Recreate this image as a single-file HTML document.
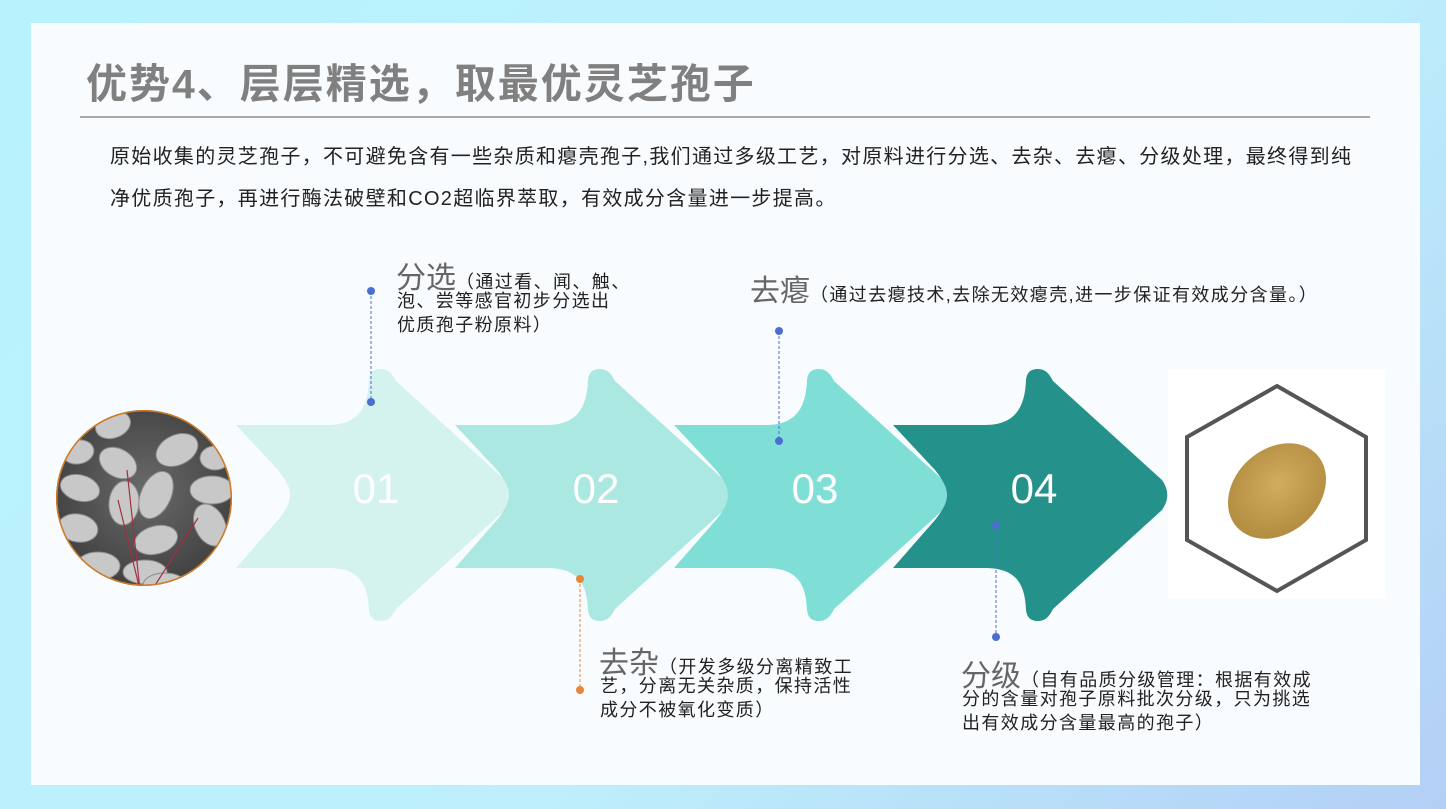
<!DOCTYPE html>
<html><head><meta charset="utf-8"><style>
body{margin:0;width:1446px;height:809px;overflow:hidden;background:linear-gradient(135deg,#b8f3fd 0%,#bdeffc 60%,#b3cff5 100%);font-family:"Liberation Sans","Noto Sans CJK SC",sans-serif;position:relative}
.card{position:absolute;left:31px;top:23px;width:1389px;height:762px;background:#f8fcfe}
.a{position:absolute;white-space:nowrap}
.big{font-size:30px;color:#666}
.sm{font-size:18px;color:#222;line-height:24px;letter-spacing:1.4px}
</style></head><body>
<div class="card"></div>
<div class="a" style="left:86px;top:50px;font-size:41px;font-weight:bold;color:#808080;letter-spacing:2px">优势4、层层精选，取最优灵芝孢子</div>
<div class="a" style="left:80px;top:116px;width:1290px;height:2px;background:#a8a8a8"></div>
<div class="a" style="left:110px;top:136px;font-size:20px;letter-spacing:1.3px;color:#222;line-height:42px">原始收集的灵芝孢子，不可避免含有一些杂质和瘪壳孢子,我们通过多级工艺，对原料进行分选、去杂、去瘪、分级处理，最终得到纯<br>净优质孢子，再进行酶法破壁和CO2超临界萃取，有效成分含量进一步提高。</div>

<svg class="a" style="left:0;top:0" width="1446" height="809">
<defs>
<radialGradient id="g1" cx="50%" cy="45%" r="60%"><stop offset="0" stop-color="#6a6a6a"/><stop offset="1" stop-color="#3a3a3a"/></radialGradient>
<radialGradient id="eg" cx="55%" cy="45%" r="60%"><stop offset="0" stop-color="#d2ad5e"/><stop offset="1" stop-color="#b08a3e"/></radialGradient>
<clipPath id="cc"><circle cx="144" cy="498" r="88"/></clipPath>
<path id="arr" d="M236,425 L328,425 C360,425 368,405 369,380 C370,372 374,369 381,369 C388,369 392,373 396,381 L505,480 C512,490 512,500 505,510 L396,609 C392,617 388,621 381,621 C374,621 370,618 369,610 C368,585 360,568 328,568 L236,568 L278,520 C294,500 294,490 278,470 Z"/>
</defs>
<use href="#arr" fill="#d4f3ef"/>
<use href="#arr" fill="#abe8e1" transform="translate(219,0)"/>
<use href="#arr" fill="#7fdfd7" transform="translate(438,0)"/>
<use href="#arr" fill="#24918a" transform="translate(657,0)"/>
<g font-size="42" fill="#fff" text-anchor="middle" font-family="Liberation Sans,sans-serif">
<text x="376" y="503">01</text><text x="596" y="503">02</text><text x="815" y="503">03</text><text x="1034" y="503">04</text></g>

<g clip-path="url(#cc)">
<rect x="50" y="405" width="190" height="190" fill="url(#g1)"/>
<g fill="#c8c8c8" stroke="#8a8a8a" stroke-width="1">
<ellipse cx="113" cy="425" rx="18" ry="13" transform="rotate(-20 113 425)"/>
<ellipse cx="177" cy="450" rx="22" ry="15" transform="rotate(-25 177 450)"/>
<ellipse cx="118" cy="463" rx="20" ry="14" transform="rotate(30 118 463)"/>
<ellipse cx="78" cy="452" rx="16" ry="12" transform="rotate(-10 78 452)"/>
<ellipse cx="80" cy="488" rx="20" ry="13" transform="rotate(15 80 488)"/>
<ellipse cx="124" cy="503" rx="15" ry="22" transform="rotate(5 124 503)"/>
<ellipse cx="156" cy="495" rx="15" ry="25" transform="rotate(25 156 495)"/>
<ellipse cx="212" cy="490" rx="22" ry="14"/>
<ellipse cx="78" cy="528" rx="20" ry="14" transform="rotate(10 78 528)"/>
<ellipse cx="156" cy="540" rx="22" ry="14" transform="rotate(-15 156 540)"/>
<ellipse cx="210" cy="525" rx="15" ry="22" transform="rotate(-25 210 525)"/>
<ellipse cx="98" cy="566" rx="22" ry="14"/>
<ellipse cx="145" cy="572" rx="22" ry="12"/>
<ellipse cx="165" cy="585" rx="22" ry="12"/>
<ellipse cx="215" cy="458" rx="15" ry="12"/>
</g>
<g stroke="#a03040" stroke-width="1.2" fill="none"><path d="M127,470 L140,590 M118,500 L140,590 M198,518 L152,590"/></g>
<circle cx="144" cy="498" r="88" fill="none" stroke="#d07a22" stroke-width="3"/>
</g>

<rect x="1168" y="369" width="217" height="230" fill="#fff"/>
<polygon points="1277,386 1366,437 1366,540 1277,591 1187,540 1187,437" fill="none" stroke="#555" stroke-width="4"/>
<ellipse cx="1277" cy="491" rx="54" ry="42" transform="rotate(-42 1277 491)" fill="url(#eg)"/>

<g stroke-width="1" stroke-dasharray="3,2">
<line x1="371" y1="291" x2="371" y2="402" stroke="#4a6fcf"/>
<line x1="779" y1="331" x2="779" y2="441" stroke="#4a6fcf"/>
<line x1="580" y1="579" x2="580" y2="690" stroke="#e8853a"/>
<line x1="996" y1="525" x2="996" y2="637" stroke="#4a6fcf"/>
</g>
<g fill="#4a6fcf"><circle cx="371" cy="291" r="4"/><circle cx="371" cy="402" r="4"/><circle cx="779" cy="331" r="4"/><circle cx="779" cy="441" r="4"/><circle cx="996" cy="525" r="4"/><circle cx="996" cy="637" r="4"/></g>
<g fill="#e8853a"><circle cx="580" cy="579" r="4"/><circle cx="580" cy="690" r="4"/></g>
</svg>

<div class="a" style="left:396px;top:253px"><span class="big">分选</span><span class="sm">（通过看、闻、触、</span></div>
<div class="a sm" style="left:397px;top:289px">泡、尝等感官初步分选出<br>优质孢子粉原料）</div>

<div class="a" style="left:750px;top:266px"><span class="big">去瘪</span><span class="sm">（通过去瘪技术,去除无效瘪壳,进一步保证有效成分含量。）</span></div>

<div class="a" style="left:599px;top:638px"><span class="big">去杂</span><span class="sm">（开发多级分离精致工</span></div>
<div class="a sm" style="left:600px;top:674px">艺，分离无关杂质，保持活性<br>成分不被氧化变质）</div>

<div class="a" style="left:961px;top:651px"><span class="big">分级</span><span class="sm">（自有品质分级管理：根据有效成</span></div>
<div class="a sm" style="left:962px;top:687px">分的含量对孢子原料批次分级，只为挑选<br>出有效成分含量最高的孢子）</div>
</body></html>
